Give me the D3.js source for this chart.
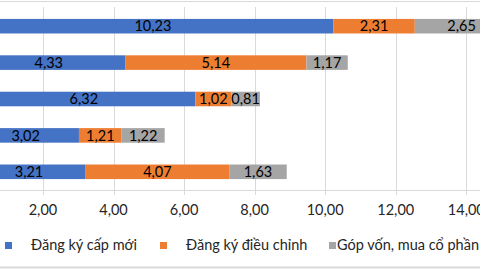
<!DOCTYPE html>
<html>
<head>
<meta charset="utf-8">
<script src="https://d3js.org/d3.v7.min.js"></script>
<style>
  html, body { margin: 0; padding: 0; background: #fff; overflow: hidden; }
  text { font-family: Lato, "Open Sans", sans-serif; }
</style>
</head>
<body>
<div id="chart"></div>
<script>
// rows top to bottom (category labels are cut off in the reference)
const categories = ["1", "2", "3", "4", "5"];
const seriesNames = ["Đăng ký cấp mới", "Đăng ký điều chỉnh", "Góp vốn, mua cổ phần"];
const newReg = [10.23, 4.33, 6.32, 3.02, 3.21];
const adjustReg = [2.31, 5.14, 1.02, 1.21, 4.07];
const capital = [2.65, 1.17, 0.81, 1.22, 1.63];
const xTicks = [0, 2, 4, 6, 8, 10, 12, 14];
const colors = ["#4472C4", "#ED7D31", "#A5A5A5"];

const width = 480, height = 270;
const axisY = 190;
const fontSize = 14.5;

const rows = categories.map((c, i) => ({
    cat: c, v0: newReg[i], v1: adjustReg[i], v2: capital[i]
}));
const keys = ["v0", "v1", "v2"];
const stacked = d3.stack().keys(keys)(rows);

const x = d3.scaleLinear().domain([0, 14]).range([-27.6, 466.3]);
const y = d3.scaleBand().domain(categories).range([8, axisY])
    .paddingInner(0.6).paddingOuter(0.3);

const fmt = v => d3.format(".2f")(v).replace(".", ",");

const svg = d3.select("#chart").append("svg")
    .attr("width", width).attr("height", height);

// frame lines
svg.append("line").attr("x1", 0).attr("x2", width).attr("y1", 1.5).attr("y2", 1.5)
    .attr("stroke", "#d9d9d9").attr("stroke-width", 1);
svg.append("line").attr("x1", 0).attr("x2", width).attr("y1", 267.5).attr("y2", 267.5)
    .attr("stroke", "#d9d9d9").attr("stroke-width", 2);

// gridlines
svg.append("g").selectAll("line").data(xTicks).join("line")
    .attr("x1", d => Math.round(x(d)) + 0.5).attr("x2", d => Math.round(x(d)) + 0.5)
    .attr("y1", 7).attr("y2", axisY + 5)
    .attr("stroke", "#d9d9d9").attr("stroke-width", 1);

// axis line
svg.append("line").attr("x1", 0).attr("x2", width)
    .attr("y1", axisY + 0.5).attr("y2", axisY + 0.5)
    .attr("stroke", "#d9d9d9").attr("stroke-width", 1);

// tick labels
svg.append("g").selectAll("text").data(xTicks.filter(d => d > 0)).join("text")
    .attr("x", d => x(d)).attr("y", 210)
    .attr("dy", "0.36em")
    .attr("text-anchor", "middle")
    .attr("font-size", fontSize).attr("fill", "#262626")
    .text(d => fmt(d));

// bars
const layers = svg.append("g").selectAll("g").data(stacked).join("g")
    .attr("fill", (d, i) => colors[i]);

layers.selectAll("rect").data(d => d).join("rect")
    .attr("x", d => x(d[0]))
    .attr("y", d => y(d.data.cat))
    .attr("width", d => x(d[1]) - x(d[0]))
    .attr("height", y.bandwidth());

// value labels
layers.each(function(layer) {
    d3.select(this).selectAll("text").data(layer).join("text")
        .attr("x", d => (x(d[0]) + x(d[1])) / 2)
        .attr("y", d => y(d.data.cat) + y.bandwidth() / 2)
        .attr("dy", "0.36em")
        .attr("text-anchor", "middle")
        .attr("font-size", fontSize).attr("fill", "#000")
        .text(d => fmt(d[1] - d[0]));
});

// legend
const legendItems = [
    { sx: 5, tx: 31 },
    { sx: 160, tx: 186 },
    { sx: 329, tx: 337 }
];
const legend = svg.append("g").selectAll("g").data(seriesNames).join("g");
legend.append("rect")
    .attr("x", (d, i) => legendItems[i].sx).attr("y", 242)
    .attr("width", 7).attr("height", 7)
    .attr("fill", (d, i) => colors[i]);
legend.append("text")
    .attr("x", (d, i) => legendItems[i].tx).attr("y", 245)
    .attr("dy", "0.36em")
    .attr("font-size", fontSize).attr("fill", "#262626")
    .text(d => d);
</script>
</body>
</html>
